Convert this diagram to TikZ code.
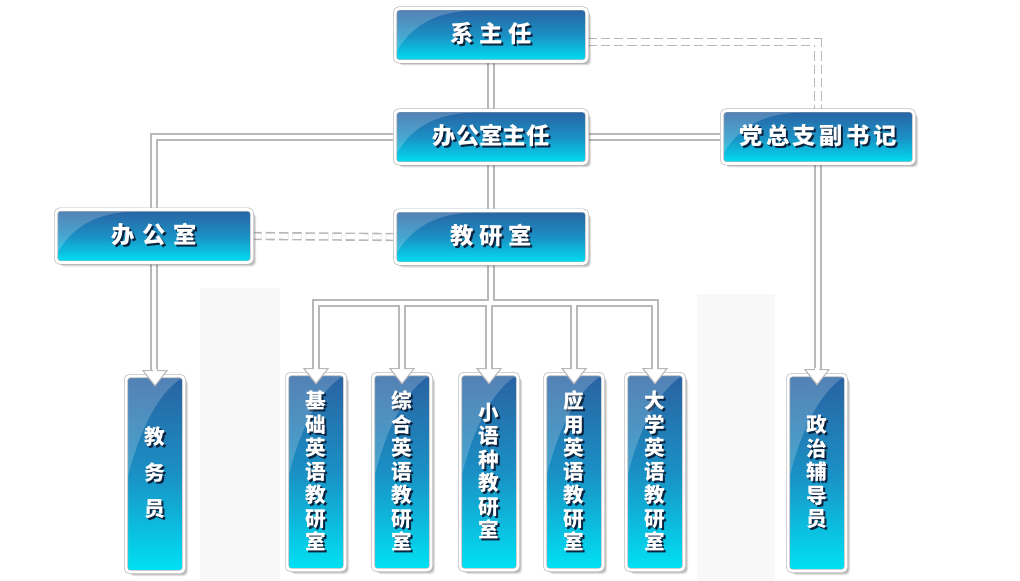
\documentclass[tikz,border=0pt]{standalone}
\usepackage{fontspec}
\newfontfamily\cjk{Noto Sans CJK SC}
\usetikzlibrary{calc,shadows}
\pgfdeclarelayer{bg}
\pgfsetlayers{bg,main}
\definecolor{btop}{HTML}{2A62A2}
\definecolor{bmid}{HTML}{1A90C4}
\definecolor{bbot}{HTML}{00E2F4}
\definecolor{edgec}{HTML}{B8B8B8}
\definecolor{tshadow}{HTML}{0A2440}
\definecolor{faint}{HTML}{F8F8F8}
\newcommand\shd[1]{\makebox[0pt][l]{\hspace{1.5pt}\raisebox{-1.5pt}{\textcolor{tshadow}{#1}}}#1}
\tikzset{
  box/.style={rectangle, rounded corners=3pt, top color=btop, bottom color=bbot, middle color=bmid,
    draw=edgec, double=white, line width=0.5pt, double distance=2pt, text=white, inner sep=0pt,
    general shadow={shadow xshift=3pt, shadow yshift=-3pt, fill=black, opacity=0.12},
    general shadow={shadow xshift=2pt, shadow yshift=-2pt, fill=black, opacity=0.18}},
  hbox/.style={box, minimum width=144pt, minimum height=39.75pt, font=\cjk\bfseries\fontsize{17.5pt}{20pt}\selectfont},
  vbox/.style={box, minimum width=43.5pt, minimum height=147pt, align=center, font=\cjk\bfseries\fontsize{15.5pt}{17.6pt}\selectfont},
  grayline/.style={draw=edgec, line width=6pt},
  whiteline/.style={draw=white, line width=3.6pt},
  dconn/.style={draw=edgec, double=white, line width=1.2pt, double distance=3.8pt, dash pattern=on 7pt off 3pt},
  gloss/.style={fill=white, opacity=0.2},
  arrowhd/.style={fill=white, draw=edgec, line width=0.8pt, line join=miter},
}
\newcommand\glossh[1]{\fill[gloss] ($(#1.north west)+(2.5,2.5)$) -- ($(#1.north west)+(2.5,42)$) .. controls ($(#1.north west)+(20,14)$) and ($(#1.north west)+(45,3)$) .. ($(#1.north west)+(80,2.5)$) -- cycle;}
\newcommand\glossv[1]{\fill[gloss] ($(#1.north west)+(2.5,2.5)$) -- ($(#1.north west)+(2.5,100)$) .. controls ($(#1.north west)+(15,50)$) and ($(#1.north west)+(35,15)$) .. ($(#1.north east)+(-2.5,2.5)$) -- cycle;}
\newcommand\arrowat[1]{%
  \filldraw[arrowhd] ($(#1.north)+(-12,-5)$) -- ($(#1.north)+(0,10)$) -- ($(#1.north)+(12,-5)$) -- cycle;
  \fill[white] ($(#1.north)+(-2.4,-7)$) rectangle ($(#1.north)+(2.4,-4)$);}
\begin{document}
\begin{tikzpicture}[x=0.75pt,y=-0.75pt]
\useasboundingbox (0,0) rectangle (1020,581);
\begin{pgfonlayer}{bg}
  \fill[white] (0,0) rectangle (1020,581);
  \fill[faint] (200,288) rectangle (280,581);
  \fill[faint] (697,294) rectangle (775,581);
\end{pgfonlayer}
% boxes
\node[hbox] (xzr) at (491,35) {\shd{系\hspace{4pt}主\hspace{4pt}任}};
\node[hbox] (bgszr) at (491,137) {\shd{办公室主任}};
\node[hbox] (dzz) at (818,137) {\shd{党\hspace{2.5pt}总\hspace{2.5pt}支\hspace{2.5pt}副\hspace{2.5pt}书\hspace{2.5pt}记}};
\node[hbox, minimum width=147pt] (bgs) at (154,236) {\shd{办\hspace{6pt}公\hspace{6pt}室}};
\node[hbox] (jys) at (491,237) {\shd{教\hspace{4pt}研\hspace{4pt}室}};
\node[vbox] (jwy) at (155,474) {\shd{教}\\[9.4pt]\shd{务}\\[9.4pt]\shd{员}};
\node[vbox] (jc) at (316,472) {\shd{基}\\\shd{础}\\\shd{英}\\\shd{语}\\\shd{教}\\\shd{研}\\\shd{室}};
\node[vbox] (zh) at (402,472) {\shd{综}\\\shd{合}\\\shd{英}\\\shd{语}\\\shd{教}\\\shd{研}\\\shd{室}};
\node[vbox] (xyz) at (489,472) {\shd{小}\\\shd{语}\\\shd{种}\\\shd{教}\\\shd{研}\\\shd{室}};
\node[vbox] (yy) at (574,472) {\shd{应}\\\shd{用}\\\shd{英}\\\shd{语}\\\shd{教}\\\shd{研}\\\shd{室}};
\node[vbox] (dx) at (655,472) {\shd{大}\\\shd{学}\\\shd{英}\\\shd{语}\\\shd{教}\\\shd{研}\\\shd{室}};
\node[vbox] (zz) at (817,473) {\shd{政}\\\shd{治}\\\shd{辅}\\\shd{导}\\\shd{员}};
\coordinate (bus) at (491,303);
% connectors
\newcommand\net[1]{%
  \draw[#1] (xzr) -- (bgszr) -- (jys) -- (bus);
  \draw[#1] (bgszr) -- (dzz);
  \draw[#1] (dzz) -- (dzz |- zz.north);
  \draw[#1] (bgszr) -| (bgs);
  \draw[#1] (bgs) -- (bgs |- jwy.north);
  \draw[#1] (jc.north) |- (dx.north |- bus) -- (dx.north);
  \draw[#1] (zh.north |- bus) -- (zh.north);
  \draw[#1] (xyz.north |- bus) -- (xyz.north);
  \draw[#1] (yy.north |- bus) -- (yy.north);}
\begin{pgfonlayer}{bg}
  \net{grayline}
  \net{whiteline}
  \draw[dconn] ($(xzr.east)+(0,7)$) -| (dzz.north);
  \draw[dconn] (bgs.east) -- (jys.west);
\end{pgfonlayer}
% gloss
\glossh{xzr}\glossh{bgszr}\glossh{dzz}\glossh{bgs}\glossh{jys}
\glossv{jwy}\glossv{jc}\glossv{zh}\glossv{xyz}\glossv{yy}\glossv{dx}\glossv{zz}
% arrowheads
\arrowat{jwy}\arrowat{jc}\arrowat{zh}\arrowat{xyz}\arrowat{yy}\arrowat{dx}\arrowat{zz}
\end{tikzpicture}
\end{document}
